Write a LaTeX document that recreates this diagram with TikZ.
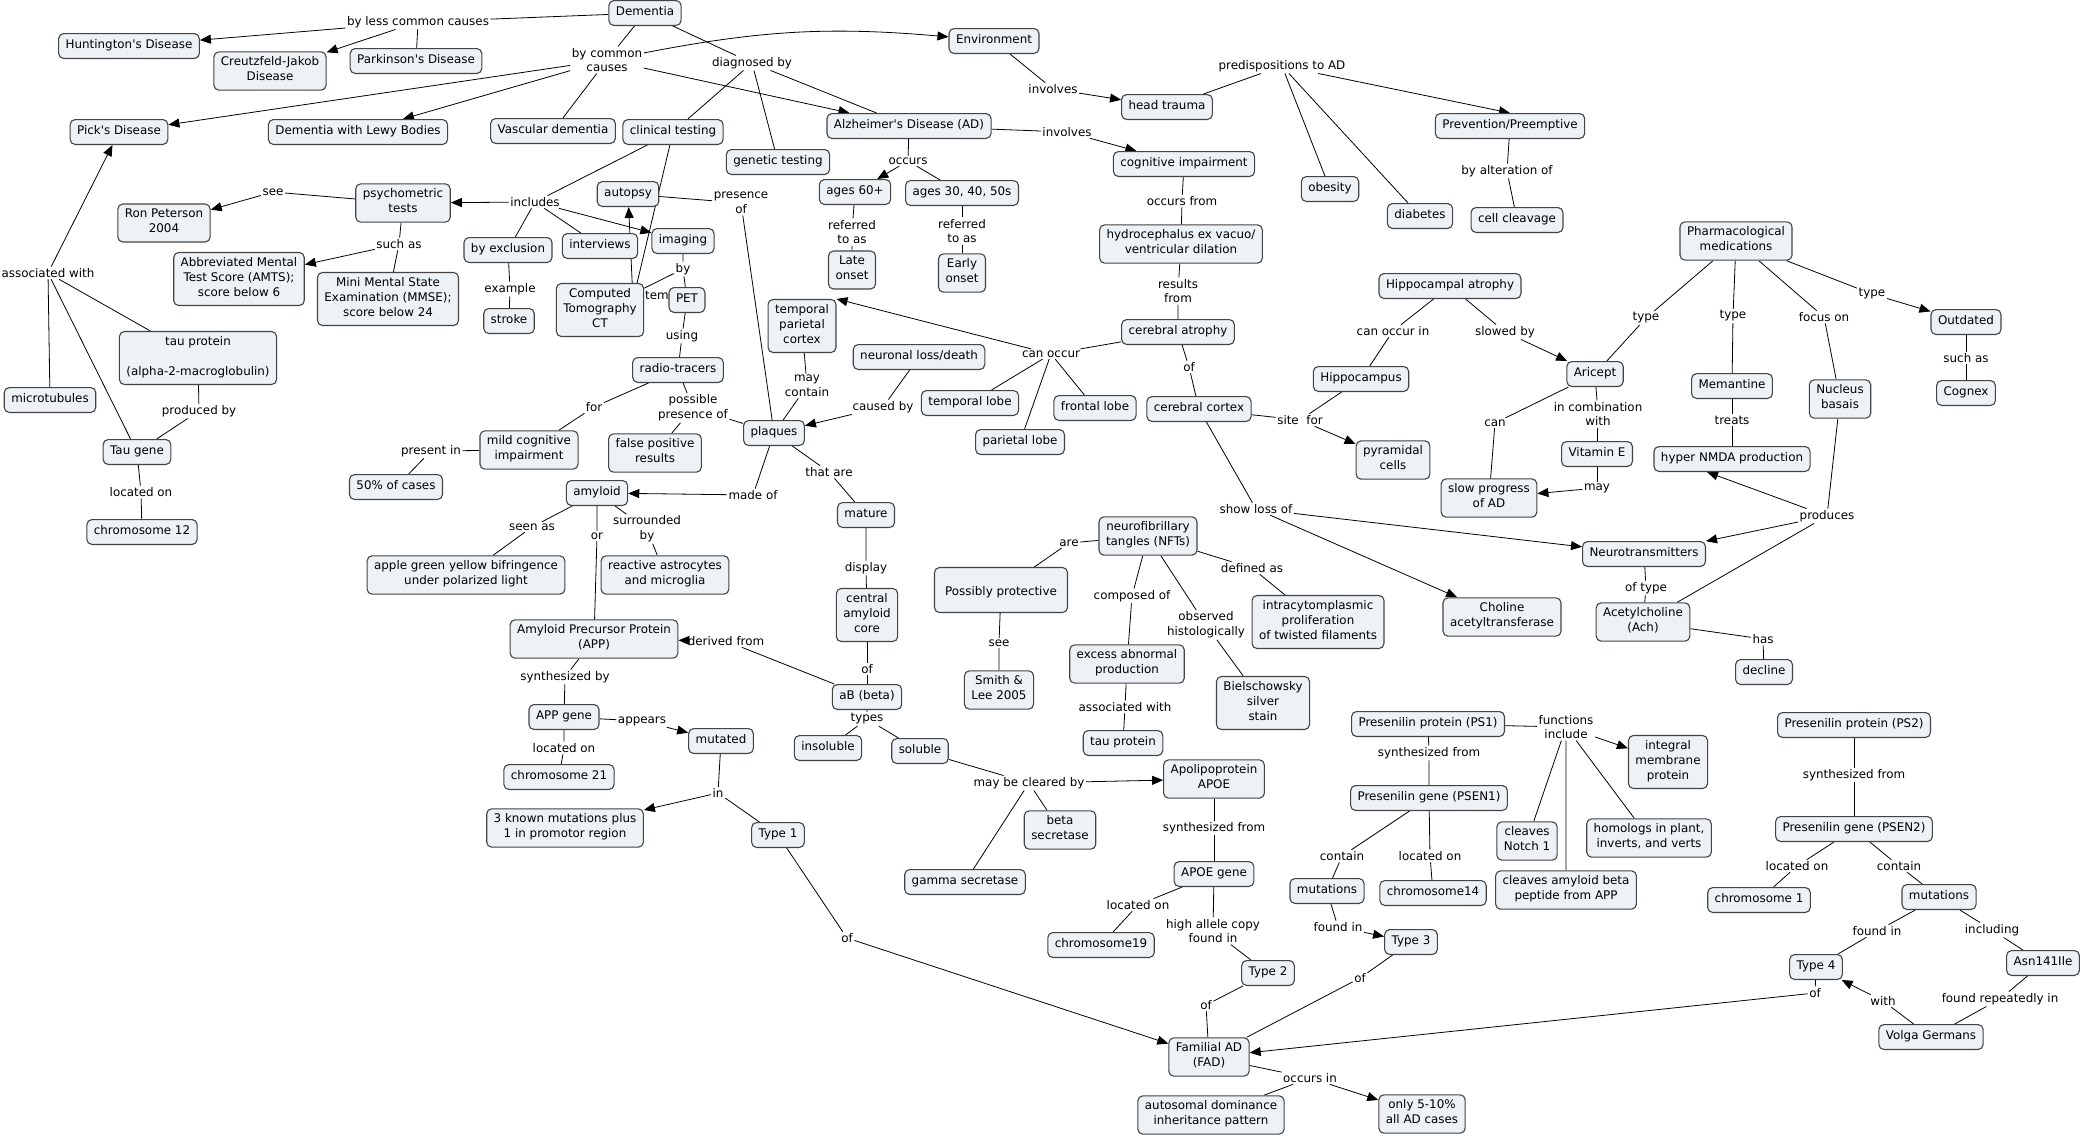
\documentclass[tikz,border=0pt]{standalone}
\usepackage{fontspec}
\newfontfamily\mapfont{DejaVu Sans}
\usetikzlibrary{arrows.meta}
\pgfdeclarelayer{bg}
\pgfsetlayers{bg,main}
\definecolor{boxfill}{RGB}{236,242,245}
\definecolor{boxline}{RGB}{68,68,68}
\begin{document}
\begin{tikzpicture}[x=1pt,y=-1pt,
    concept/.style={draw=boxline,fill=boxfill,line width=1.1pt,rounded corners=5pt,align=center,
      inner xsep=7pt,inner ysep=5.1pt,font=\mapfont\fontsize{11.9}{14.7}\selectfont,
      execute at begin node=\strut,execute at end node=\strut},
    linkp/.style={align=center,inner sep=1.5pt,font=\mapfont\fontsize{11.9}{14.7}\selectfont},
    arr/.style={-{Triangle[length=11pt,width=9pt]}}]
\useasboundingbox (0,0) rectangle (2090,1138);
% hidden phrase behind CT and PET
\node[linkp] (ltem) at (657,295) {tem};
% concepts
\node[concept] (dem) at (645,13) {Dementia};
\node[concept] (hunt) at (129,46) {Huntington's Disease};
\node[concept] (cjd) at (270,71) {Creutzfeld-Jakob\\Disease};
\node[concept] (park) at (416,61) {Parkinson's Disease};
\node[concept] (pick) at (119,132) {Pick's Disease};
\node[concept] (lewy) at (358,132) {Dementia with Lewy Bodies};
\node[concept] (vasc) at (553,131) {Vascular dementia};
\node[concept] (clin) at (673,132) {clinical testing};
\node[concept] (gen) at (778,162) {genetic testing};
\node[concept] (ad) at (909,126) {Alzheimer's Disease (AD)};
\node[concept] (env) at (994,41) {Environment};
\node[concept] (head) at (1167,107) {head trauma};
\node[concept] (cog) at (1184,164) {cognitive impairment};
\node[concept] (hydro) at (1181,244) {hydrocephalus ex vacuo/\\ventricular dilation};
\node[concept] (catro) at (1178,332) {cerebral atrophy};
\node[concept] (obes) at (1330,189) {obesity};
\node[concept] (diab) at (1420,216) {diabetes};
\node[concept] (prev) at (1510,126) {Prevention/Preemptive};
\node[concept] (cleav) at (1517,220) {cell cleavage};
\node[concept] (hatro) at (1450,286) {Hippocampal atrophy};
\node[concept] (hippo) at (1361,379) {Hippocampus};
\node[concept] (pharm) at (1736,241) {Pharmacological\\medications};
\node[concept] (outd) at (1966,322) {Outdated};
\node[concept] (cognex) at (1966,393) {Cognex};
\node[concept] (aric) at (1595,374) {Aricept};
\node[concept] (mem) at (1732,386) {Memantine};
\node[concept] (nucl) at (1840,399) {Nucleus\\basais};
\node[concept] (vite) at (1597,454) {Vitamin E};
\node[concept] (nmda) at (1732,459) {hyper NMDA production};
\node[concept] (slow) at (1489,498) {slow progress\\of AD};
\node[concept] (neuro) at (1644,554) {Neurotransmitters};
\node[concept] (ach) at (1643,622) {Acetylcholine\\(Ach)};
\node[concept] (decl) at (1764,672) {decline};
\node[concept] (chol) at (1502,617) {Choline\\acetyltransferase};
\node[concept] (pyr) at (1393,460) {pyramidal\\cells};
\node[concept] (cort) at (1199,409) {cerebral cortex};
\node[concept] (front) at (1095,408) {frontal lobe};
\node[concept] (templ) at (970,403) {temporal lobe};
\node[concept] (parl) at (1020,442) {parietal lobe};
\node[concept] (tpc) at (802,326) {temporal\\parietal\\cortex};
\node[concept] (nloss) at (919,357) {neuronal loss/death};
\node[concept] (a60) at (855,192) {ages 60+};
\node[concept] (a30) at (962,193) {ages 30, 40, 50s};
\node[concept] (late) at (852,270) {Late\\onset};
\node[concept] (early) at (962,273) {Early\\onset};
\node[concept] (psy) at (403,203) {psychometric\\tests};
\node[concept] (ron) at (164,223) {Ron Peterson\\2004};
\node[concept] (amts) at (239,279) {Abbreviated Mental\\Test Score (AMTS);\\score below 6};
\node[concept] (mmse) at (388,299) {Mini Mental State\\Examination (MMSE);\\score below 24};
\node[concept] (excl) at (508,250) {by exclusion};
\node[concept] (stroke) at (509,321) {stroke};
\node[concept] (autop) at (628,194) {autopsy};
\node[concept] (interv) at (600,246) {interviews};
\node[concept] (imag) at (683,241) {imaging};
\node[concept] (ct) at (600,310) {Computed\\Tomography\\CT};
\node[concept] (pet) at (687,300) {PET};
\node[concept] (radio) at (678,370) {radio-tracers};
\node[concept] (mci) at (529,450) {mild cognitive\\impairment};
\node[concept] (fifty) at (396,487) {50\% of cases};
\node[concept] (falsep) at (655,453) {false positive\\results};
\node[concept] (plaq) at (774,433) {plaques};
\node[concept] (amyl) at (597,493) {amyloid};
\node[concept] (apple) at (466,575) {apple green yellow bifringence\\under polarized light};
\node[concept] (astro) at (665,575) {reactive astrocytes\\and microglia};
\node[concept] (mature) at (866,515) {mature};
\node[concept] (core) at (867,615) {central\\amyloid\\core};
\node[concept] (abeta) at (867,697) {aB (beta)};
\node[concept] (app) at (594,639) {Amyloid Precursor Protein\\(APP)};
\node[concept] (appg) at (564,717) {APP gene};
\node[concept] (mut) at (721,741) {mutated};
\node[concept] (chr21) at (559,777) {chromosome 21};
\node[concept] (known) at (565,828) {3 known mutations plus\\1 in promotor region};
\node[concept] (type1) at (778,835) {Type 1};
\node[concept] (insol) at (828,748) {insoluble};
\node[concept] (sol) at (920,751) {soluble};
\node[concept] (gamma) at (965,882) {gamma secretase};
\node[concept] (betas) at (1060,830) {beta\\secretase};
\node[concept] (apoe) at (1214,779) {Apolipoprotein\\APOE};
\node[concept] (apoeg) at (1214,874) {APOE gene};
\node[concept] (chr19) at (1101,945) {chromosome19};
\node[concept] (type2) at (1268,973) {Type 2};
\node[concept] (fad) at (1209,1057) {Familial AD\\(FAD)};
\node[concept] (auto) at (1211,1115) {autosomal dominance\\inheritance pattern};
\node[concept] (only) at (1422,1114) {only 5-10\%\\all AD cases};
\node[concept,minimum height=45pt,minimum width=133pt] (prot) at (1001,590) {\\Possibly protective};
\node[concept] (smith) at (999,690) {Smith \&\\Lee 2005};
\node[concept] (nft) at (1148,536) {neurofibrillary\\tangles (NFTs)};
\node[concept] (intra) at (1318,622) {intracytomplasmic\\proliferation\\of twisted filaments};
\node[concept] (excess) at (1127,664) {excess abnormal\\production};
\node[concept] (biel) at (1263,703) {Bielschowsky\\silver\\stain};
\node[concept] (tau2) at (1123,743) {tau protein};
\node[concept] (ps1) at (1428,724) {Presenilin protein (PS1)};
\node[concept] (psen1) at (1429,798) {Presenilin gene (PSEN1)};
\node[concept] (mut1) at (1327,891) {mutations};
\node[concept] (chr14) at (1433,893) {chromosome14};
\node[concept] (type3) at (1411,942) {Type 3};
\node[concept] (integ) at (1668,762) {integral\\membrane\\protein};
\node[concept] (notch) at (1527,841) {cleaves\\Notch 1};
\node[concept] (cleavab) at (1566,890) {cleaves amyloid beta\\peptide from APP};
\node[concept] (homol) at (1649,838) {homologs in plant,\\inverts, and verts};
\node[concept] (ps2) at (1854,725) {Presenilin protein (PS2)};
\node[concept] (psen2) at (1854,829) {Presenilin gene (PSEN2)};
\node[concept] (chr1) at (1759,900) {chromosome 1};
\node[concept] (mut2) at (1939,897) {mutations};
\node[concept] (type4) at (1816,967) {Type 4};
\node[concept] (asn) at (2043,963) {Asn141Ile};
\node[concept] (volga) at (1931,1037) {Volga Germans};
\node[concept] (tau1) at (198,358) {tau protein\\\mbox{}\\(alpha-2-macroglobulin)};
\node[concept] (micro) at (50,400) {microtubules};
\node[concept] (taug) at (137,452) {Tau gene};
\node[concept] (chr12) at (142,532) {chromosome 12};
\coordinate (hid) at (633,300);
% linking phrases
\node[linkp] (lblc) at (418,22) {by less common causes};
\node[linkp] (lbcc) at (607,60) {by common\\causes};
\node[linkp] (ldiag) at (752,63) {diagnosed by};
\node[linkp] (linv1) at (1053,89) {involves};
\node[linkp] (linv2) at (1067,132) {involves};
\node[linkp] (lpred) at (1282,66) {predispositions to AD};
\node[linkp] (lalter) at (1507,171) {by alteration of};
\node[linkp] (loccurs) at (908,161) {occurs};
\node[linkp] (lref1) at (852,232) {referred\\to as};
\node[linkp] (lref2) at (962,231) {referred\\to as};
\node[linkp] (loccfrom) at (1182,201) {occurs from};
\node[linkp] (lresults) at (1178,291) {results\\from};
\node[linkp] (lcanocc) at (1051,354) {can occur};
\node[linkp] (lof1) at (1189,367) {of};
\node[linkp] (lsite) at (1300,420) {site\ \ for};
\node[linkp] (lcanin) at (1393,331) {can occur in};
\node[linkp] (lslowed) at (1505,332) {slowed by};
\node[linkp] (ltype1) at (1646,318) {type};
\node[linkp] (ltype2) at (1733,316) {type};
\node[linkp] (lfocus) at (1824,317) {focus on};
\node[linkp] (ltype3) at (1872,294) {type};
\node[linkp] (lsuch2) at (1966,358) {such as};
\node[linkp] (lcan) at (1495,423) {can};
\node[linkp] (lcomb) at (1598,414) {in combination\\with};
\node[linkp] (lmay) at (1597,488) {may};
\node[linkp] (ltreats) at (1732,420) {treats};
\node[linkp] (lprod) at (1827,516) {produces};
\node[linkp] (loftype) at (1646,588) {of type};
\node[linkp] (lhas) at (1763,639) {has};
\node[linkp] (lshow) at (1256,509) {show loss of};
\node[linkp] (lare) at (1069,543) {are};
\node[linkp] (ldef) at (1252,568) {defined as};
\node[linkp] (lcomp) at (1132,596) {composed of};
\node[linkp] (lobs) at (1206,625) {observed\\histologically};
\node[linkp] (lassoc2) at (1125,707) {associated with};
\node[linkp] (lsee2) at (999,643) {see};
\node[linkp] (lmaycont) at (807,386) {may\\contain};
\node[linkp] (lcaused) at (883,407) {caused by};
\node[linkp] (lpres) at (741,203) {presence\\of};
\node[linkp] (lincl) at (535,202) {includes};
\node[linkp] (lexample) at (510,289) {example};
\node[linkp] (lsee1) at (273,192) {see};
\node[linkp] (lsuch1) at (399,244) {such as};
\node[linkp] (lby) at (683,269) {by};
\node[linkp] (lusing) at (682,336) {using};
\node[linkp] (lfor) at (594,407) {for};
\node[linkp] (lposs) at (693,408) {possible\\presence of};
\node[linkp] (lpresin) at (431,451) {present in};
\node[linkp] (lmade) at (753,495) {made of};
\node[linkp] (lthat) at (829,472) {that are};
\node[linkp] (lseen) at (532,527) {seen as};
\node[linkp] (lor) at (597,536) {or};
\node[linkp] (lsurr) at (647,529) {surrounded\\by};
\node[linkp] (ldisp) at (866,568) {display};
\node[linkp] (lof2) at (867,669) {of};
\node[linkp] (lderiv) at (726,641) {derived from};
\node[linkp] (ltypes) at (867,719) {types};
\node[linkp] (lsynby) at (565,677) {synthesized by};
\node[linkp] (lappears) at (642,721) {appears};
\node[linkp] (lloc1) at (564,748) {located on};
\node[linkp] (lin) at (718,793) {in};
\node[linkp] (lofT1) at (847,938) {of};
\node[linkp] (lclear) at (1029,783) {may be cleared by};
\node[linkp] (lsyn1) at (1214,828) {synthesized from};
\node[linkp] (lloc2) at (1138,905) {located on};
\node[linkp] (lhigh) at (1213,931) {high allele copy\\found in};
\node[linkp] (lofT2) at (1206,1005) {of};
\node[linkp] (loccin) at (1310,1078) {occurs in};
\node[linkp] (lfunc) at (1566,727) {functions\\include};
\node[linkp] (lsyn2) at (1429,753) {synthesized from};
\node[linkp] (lcont1) at (1342,856) {contain};
\node[linkp] (lloc3) at (1430,856) {located on};
\node[linkp] (lfound1) at (1338,927) {found in};
\node[linkp] (lofT3) at (1360,978) {of};
\node[linkp] (lsyn3) at (1854,775) {synthesized from};
\node[linkp] (lloc4) at (1797,866) {located on};
\node[linkp] (lcont2) at (1899,866) {contain};
\node[linkp] (lfound2) at (1877,931) {found in};
\node[linkp] (linclud) at (1992,930) {including};
\node[linkp] (lofT4) at (1815,993) {of};
\node[linkp] (lwith) at (1883,1001) {with};
\node[linkp] (lrep) at (2000,999) {found repeatedly in};
\node[linkp] (lassoc1) at (48,273) {associated with};
\node[linkp] (lprodby) at (199,411) {produced by};
\node[linkp] (lloc5) at (141,492) {located on};
% connectors, behind the boxes
\begin{pgfonlayer}{bg}
\fill[white] (0,0) rectangle (2090,1138);
\begin{scope}[line width=0.8pt]
% causes
\draw (dem) -- (lblc) (lblc) -- (park);
\draw[arr] (lblc) -- (hunt);
\draw[arr] (lblc) -- (cjd);
\draw (dem) -- (lbcc) (lbcc) -- (vasc);
\draw[arr] (lbcc) -- (pick);
\draw[arr] (lbcc) -- (lewy);
\draw[arr] (lbcc) -- (ad);
\draw[arr] (lbcc) to[bend left=8] (env);
% diagnosis
\draw (dem) -- (ldiag) (ldiag) -- (clin) (ldiag) -- (gen) (ldiag) -- (ad);
\draw (clin) -- (lincl) (lincl) -- (excl) (lincl) -- (interv);
\draw[arr] (lincl) -- (psy);
\draw[arr] (lincl) -- (imag);
\draw (clin) -- (hid);
\draw[arr] (hid) -- (autop);
\draw (autop) -- (lpres) (lpres) -- (plaq);
\draw (excl) -- (lexample) (lexample) -- (stroke);
\draw (psy) -- (lsee1); \draw[arr] (lsee1) -- (ron);
\draw (psy) -- (lsuch1) (lsuch1) -- (mmse); \draw[arr] (lsuch1) -- (amts);
\draw (imag) -- (lby) (lby) -- (pet) (lby) -- (ct);
\draw (pet) -- (lusing) (lusing) -- (radio);
\draw (radio) -- (lfor) (lfor) -- (mci);
\draw (radio) -- (lposs) (lposs) -- (falsep) (lposs) -- (plaq);
\draw (mci) -- (lpresin) (lpresin) -- (fifty);
% AD
\draw (ad) -- (loccurs) (loccurs) -- (a30);
\draw[arr] (loccurs) -- (a60);
\draw (a60) -- (lref1) (lref1) -- (late);
\draw (a30) -- (lref2) (lref2) -- (early);
\draw (ad) -- (linv2); \draw[arr] (linv2) -- (cog);
\draw (env) -- (linv1); \draw[arr] (linv1) -- (head);
\draw (head) -- (lpred) (lpred) -- (obes) (lpred) -- (diab);
\draw[arr] (lpred) -- (prev.north);
\draw (prev) -- (lalter) (lalter) -- (cleav);
\draw (cog) -- (loccfrom) (loccfrom) -- (hydro);
\draw (hydro) -- (lresults) (lresults) -- (catro);
\draw (catro) -- (lcanocc) (lcanocc) -- (templ) (lcanocc) -- (front) (lcanocc) -- (parl);
\draw[arr] (lcanocc) -- (tpc.north east);
\draw (nloss) -- (lcaused); \draw[arr] (lcaused) -- (plaq);
\draw (tpc) -- (lmaycont) (lmaycont) -- (plaq);
\draw (catro) -- (lof1) (lof1) -- (cort);
\draw (cort) -- (lsite) (hippo) -- (lsite); \draw[arr] (lsite) -- (pyr);
\draw (cort) -- (lshow); \draw[arr] (lshow) -- (chol); \draw[arr] (lshow) -- (neuro);
\draw (hatro) -- (lcanin) (lcanin) -- (hippo);
\draw (hatro) -- (lslowed); \draw[arr] (lslowed) -- (aric);
% drugs
\draw (pharm) -- (ltype1) (ltype1) -- (aric);
\draw (pharm) -- (ltype2) (ltype2) -- (mem);
\draw (pharm) -- (lfocus) (lfocus) -- (nucl);
\draw (pharm) -- (ltype3); \draw[arr] (ltype3) -- (outd);
\draw (outd) -- (lsuch2) (lsuch2) -- (cognex);
\draw (aric) -- (lcan) (lcan) -- (slow);
\draw (aric) -- (lcomb) (lcomb) -- (vite);
\draw (vite) -- (lmay); \draw[arr] (lmay) -- (slow);
\draw (mem) -- (ltreats) (ltreats) -- (nmda);
\draw (nucl) -- (lprod) (lprod) -- (ach);
\draw[arr] (lprod) -- ([xshift=-25pt]nmda.south);
\draw[arr] (lprod) -- (neuro);
\draw (neuro) -- (loftype) (loftype) -- (ach);
\draw (ach) -- (lhas) (lhas) -- (decl);
% tangles
\draw (nft) -- (lare) (lare) -- (prot);
\draw (prot) -- (lsee2) (lsee2) -- (smith);
\draw (nft) -- (ldef) (ldef) -- (intra);
\draw (nft) -- (lcomp) (lcomp) -- (excess);
\draw (nft) -- (lobs) (lobs) -- (biel);
\draw (excess) -- (lassoc2) (lassoc2) -- (tau2);
% plaques and amyloid
\draw (plaq) -- (lmade); \draw[arr] (lmade) -- (amyl);
\draw (plaq) -- (lthat) (lthat) -- (mature);
\draw (mature) -- (ldisp) (ldisp) -- (core);
\draw (core) -- (lof2) (lof2) -- (abeta);
\draw (amyl) -- (lseen) (lseen) -- (apple);
\draw (amyl) -- (lor) (lor) -- (app);
\draw (amyl) -- (lsurr) (lsurr) -- (astro);
\draw (abeta) -- (lderiv); \draw[arr] (lderiv) -- (app);
\draw (abeta) -- (ltypes) (ltypes) -- (insol) (ltypes) -- (sol);
\draw (sol) -- (lclear) (lclear) -- (betas) (lclear) -- (gamma);
\draw[arr] (lclear) -- (apoe);
\draw (app) -- (lsynby) (lsynby) -- (appg);
\draw (appg) -- (lloc1) (lloc1) -- (chr21);
\draw (appg) -- (lappears); \draw[arr] (lappears) -- (mut);
\draw (mut) -- (lin) (lin) -- (type1); \draw[arr] (lin) -- (known);
\draw (type1) -- (lofT1); \draw[arr] (lofT1) -- (fad);
% APOE
\draw (apoe) -- (lsyn1) (lsyn1) -- (apoeg);
\draw (apoeg) -- (lloc2) (lloc2) -- (chr19);
\draw (apoeg) -- (lhigh) (lhigh) -- (type2);
\draw (type2) -- (lofT2) (lofT2) -- (fad);
\draw (fad) -- (loccin) (loccin) -- (auto); \draw[arr] (loccin) -- (only);
% presenilin
\draw (ps1) -- (lfunc) (lfunc) -- (notch) (lfunc) -- (cleavab) (lfunc) -- (homol);
\draw[arr] (lfunc) -- (integ);
\draw (ps1) -- (lsyn2) (lsyn2) -- (psen1);
\draw (psen1) -- (lcont1) (lcont1) -- (mut1);
\draw (psen1) -- (lloc3) (lloc3) -- (chr14);
\draw (mut1) -- (lfound1); \draw[arr] (lfound1) -- (type3);
\draw (type3) -- (lofT3) (lofT3) -- (fad);
\draw (ps2) -- (lsyn3) (lsyn3) -- (psen2);
\draw (psen2) -- (lloc4) (lloc4) -- (chr1);
\draw (psen2) -- (lcont2) (lcont2) -- (mut2);
\draw (mut2) -- (lfound2) (lfound2) -- (type4);
\draw (mut2) -- (linclud) (linclud) -- (asn);
\draw (asn) -- (lrep) (lrep) -- (volga);
\draw (volga) -- (lwith); \draw[arr] (lwith) -- (type4);
\draw (type4) -- (lofT4); \draw[arr] (lofT4) -- (fad);
% tau
\draw (micro) -- (lassoc1) (taug) -- (lassoc1) (tau1) -- (lassoc1);
\draw[arr] (lassoc1) -- (pick);
\draw (tau1) -- (lprodby) (lprodby) -- (taug);
\draw (taug) -- (lloc5) (lloc5) -- (chr12);
\end{scope}
\end{pgfonlayer}
\end{tikzpicture}
\end{document}
